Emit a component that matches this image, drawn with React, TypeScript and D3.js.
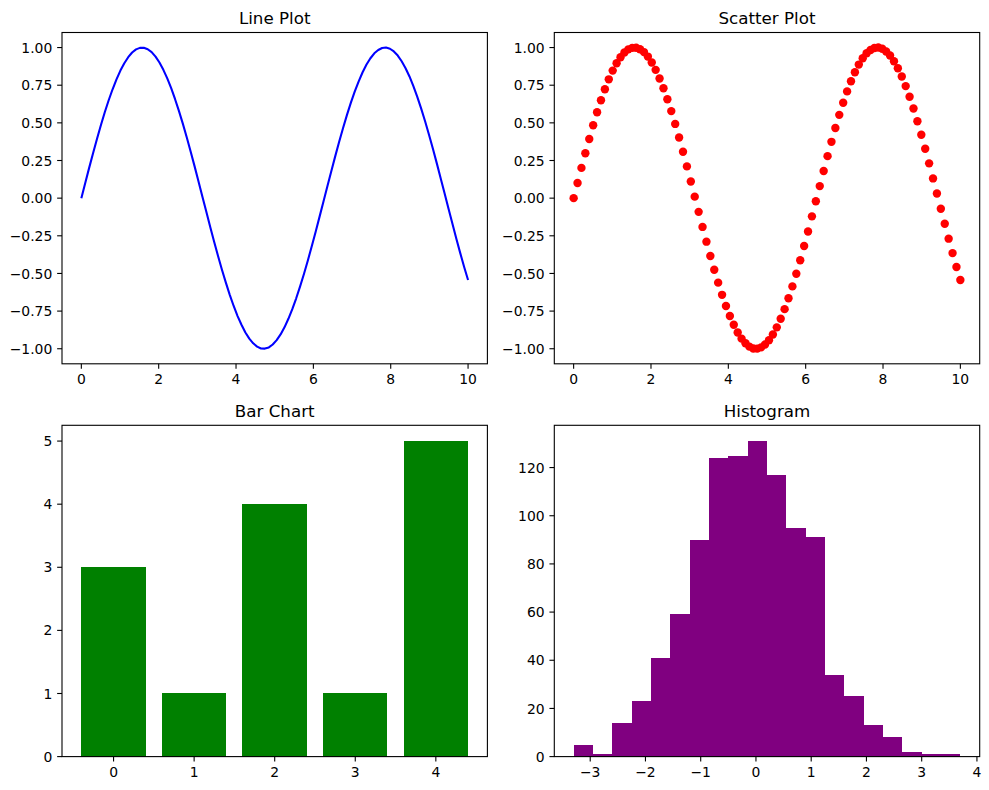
import React from "react";
import * as d3 from "d3";

// x samples (0..10, 100 points) and their values
const xs = [
  0.0, 0.101, 0.202, 0.303, 0.404, 0.505, 0.606, 0.707, 0.808, 0.909,
  1.01, 1.111, 1.212, 1.313, 1.414, 1.515, 1.616, 1.717, 1.818, 1.919,
  2.02, 2.121, 2.222, 2.323, 2.424, 2.525, 2.626, 2.727, 2.828, 2.929,
  3.03, 3.131, 3.232, 3.333, 3.434, 3.535, 3.636, 3.737, 3.838, 3.939,
  4.04, 4.141, 4.242, 4.343, 4.444, 4.545, 4.646, 4.747, 4.848, 4.949,
  5.051, 5.152, 5.253, 5.354, 5.455, 5.556, 5.657, 5.758, 5.859, 5.96,
  6.061, 6.162, 6.263, 6.364, 6.465, 6.566, 6.667, 6.768, 6.869, 6.97,
  7.071, 7.172, 7.273, 7.374, 7.475, 7.576, 7.677, 7.778, 7.879, 7.98,
  8.081, 8.182, 8.283, 8.384, 8.485, 8.586, 8.687, 8.788, 8.889, 8.99,
  9.091, 9.192, 9.293, 9.394, 9.495, 9.596, 9.697, 9.798, 9.899, 10.0,
];
const ys = [
  0.0, 0.101, 0.201, 0.298, 0.393, 0.484, 0.57, 0.65, 0.723, 0.789,
  0.847, 0.896, 0.936, 0.967, 0.988, 0.998, 0.999, 0.989, 0.97, 0.94,
  0.901, 0.852, 0.795, 0.73, 0.657, 0.578, 0.493, 0.403, 0.308, 0.211,
  0.111, 0.01, -0.091, -0.191, -0.289, -0.384, -0.475, -0.561, -0.642, -0.716,
  -0.783, -0.841, -0.892, -0.933, -0.964, -0.986, -0.998, -0.999, -0.991, -0.972,
  -0.943, -0.905, -0.858, -0.801, -0.737, -0.665, -0.586, -0.502, -0.412, -0.318,
  -0.221, -0.121, -0.021, 0.08, 0.18, 0.279, 0.374, 0.466, 0.553, 0.634,
  0.709, 0.776, 0.836, 0.887, 0.929, 0.962, 0.984, 0.997, 1.0, 0.992,
  0.974, 0.947, 0.909, 0.863, 0.808, 0.744, 0.673, 0.595, 0.511, 0.421,
  0.328, 0.231, 0.131, 0.031, -0.07, -0.17, -0.269, -0.365, -0.457, -0.544,
];

const barCats = [0, 1, 2, 3, 4];
const barVals = [3, 1, 4, 1, 5];

const histEdges = [
  -3.3, -2.95, -2.6, -2.25, -1.9, -1.55, -1.2, -0.85, -0.5, -0.15, 0.2,
  0.55, 0.9, 1.25, 1.6, 1.95, 2.3, 2.65, 3.0, 3.35, 3.7,
];
const histCounts = [5, 1, 14, 23, 41, 59, 90, 124, 125, 131, 117, 95, 91, 34, 25, 13, 8, 2, 1, 1];

const sineXTicks = [0, 2, 4, 6, 8, 10];
const sineYTicks = [-1, -0.75, -0.5, -0.25, 0, 0.25, 0.5, 0.75, 1];
const barYTicks = [0, 1, 2, 3, 4, 5];
const histXTicks = [-3, -2, -1, 0, 1, 2, 3, 4];
const histYTicks = [0, 20, 40, 60, 80, 100, 120];

const W = 989;
const H = 790;
const FONT = "DejaVu Sans, sans-serif";
const TICK = 4.86;
const PAD = 4.86;

const minus = (s: string) => s.replace("-", "\u2212");
const f2 = (v: number) => minus(v.toFixed(2));
const f0 = (v: number) => minus(String(v));

type PanelProps = {
  left: number;
  top: number;
  width: number;
  height: number;
  title: string;
  xDomain: [number, number];
  yDomain: [number, number];
  xTicks: number[];
  yTicks: number[];
  xFmt: (v: number) => string;
  yFmt: (v: number) => string;
  draw: (x: d3.ScaleLinear<number, number>, y: d3.ScaleLinear<number, number>) => React.ReactNode;
};

const Panel = ({ left, top, width, height, title, xDomain, yDomain, xTicks, yTicks, xFmt, yFmt, draw }: PanelProps) => {
  const x = d3.scaleLinear().domain(xDomain).range([left, left + width]);
  const y = d3.scaleLinear().domain(yDomain).range([top + height, top]);
  const bottom = top + height;
  return (
    <g>
      {draw(x, y)}
      <rect x={left} y={top} width={width} height={height} fill="none" stroke="#000" strokeWidth={1.1} />
      {xTicks.map(t => (
        <g key={"x" + t}>
          <line x1={x(t)} x2={x(t)} y1={bottom} y2={bottom + TICK} stroke="#000" strokeWidth={1.1} />
          <text x={x(t)} y={bottom + TICK + PAD + 10.3} textAnchor="middle" fontSize={13.9} fontFamily={FONT}>
            {xFmt(t)}
          </text>
        </g>
      ))}
      {yTicks.map(t => (
        <g key={"y" + t}>
          <line x1={left - TICK} x2={left} y1={y(t)} y2={y(t)} stroke="#000" strokeWidth={1.1} />
          <text x={left - TICK - PAD} y={y(t) + 5.1} textAnchor="end" fontSize={13.9} fontFamily={FONT}>
            {yFmt(t)}
          </text>
        </g>
      ))}
      <text x={left + width / 2} y={top - 8.3} textAnchor="middle" fontSize={16.7} fontFamily={FONT}>
        {title}
      </text>
    </g>
  );
};

export default function App() {
  const pts = xs.map((v, i) => [v, ys[i]] as [number, number]);
  const L1 = 62, L2 = 554.3, PW = 425.4, T1 = 32.5, T2 = 425.3, PH = 331.3;

  return (
    <div style={{ position: "absolute", left: 0, top: 0 }}>
      <svg width={W} height={H} style={{ display: "block", background: "#fff" }}>
        <Panel
          left={L1} top={T1} width={PW} height={PH} title="Line Plot"
          xDomain={[-0.5, 10.5]} yDomain={[-1.1, 1.1]}
          xTicks={sineXTicks} yTicks={sineYTicks} xFmt={f0} yFmt={f2}
          draw={(x, y) => {
            const line = d3.line<[number, number]>().x(d => x(d[0])).y(d => y(d[1]));
            return <path d={line(pts) || ""} fill="none" stroke="#0000ff" strokeWidth={2.08} strokeLinejoin="round" />;
          }}
        />
        <Panel
          left={L2} top={T1} width={PW} height={PH} title="Scatter Plot"
          xDomain={[-0.5, 10.5]} yDomain={[-1.1, 1.1]}
          xTicks={sineXTicks} yTicks={sineYTicks} xFmt={f0} yFmt={f2}
          draw={(x, y) => (
            <g fill="#ff0000">
              {pts.map((d, i) => <circle key={i} cx={x(d[0])} cy={y(d[1])} r={4.2} />)}
            </g>
          )}
        />
        <Panel
          left={L1} top={T2} width={PW} height={PH} title="Bar Chart"
          xDomain={[-0.64, 4.64]} yDomain={[0, 5.25]}
          xTicks={barCats} yTicks={barYTicks} xFmt={f0} yFmt={f0}
          draw={(x, y) => (
            <g fill="#008000" shapeRendering="crispEdges">
              {barCats.map((c, i) => (
                <rect key={c} x={x(c - 0.4)} width={x(c + 0.4) - x(c - 0.4)} y={y(barVals[i])} height={y(0) - y(barVals[i])} />
              ))}
            </g>
          )}
        />
        <Panel
          left={L2} top={T2} width={PW} height={PH} title="Histogram"
          xDomain={[-3.65, 4.05]} yDomain={[0, 137.55]}
          xTicks={histXTicks} yTicks={histYTicks} xFmt={f0} yFmt={f0}
          draw={(x, y) => (
            <g fill="#800080" shapeRendering="crispEdges">
              {histCounts.map((c, i) => (
                <rect key={i} x={x(histEdges[i])} width={x(histEdges[i + 1]) - x(histEdges[i])} y={y(c)} height={y(0) - y(c)} />
              ))}
            </g>
          )}
        />
      </svg>
    </div>
  );
}
